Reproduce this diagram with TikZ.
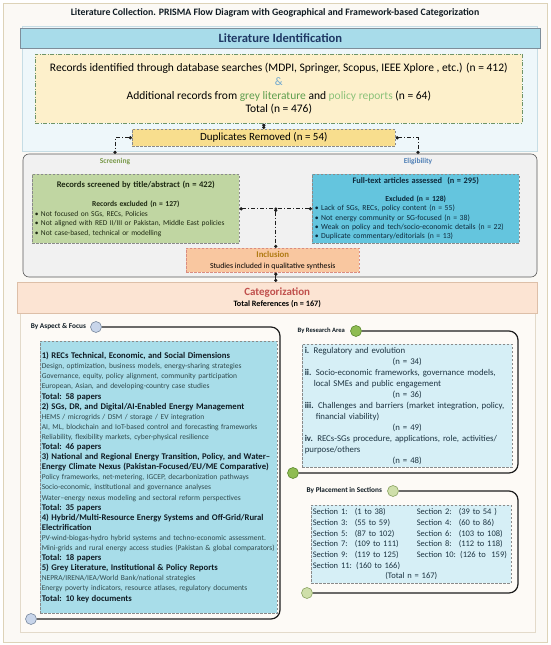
\documentclass[tikz,border=0pt]{standalone}
\usepackage{fontspec}
\setmainfont{Carlito}
\usetikzlibrary{arrows.meta,calc,positioning}

\definecolor{pagebg}{HTML}{FBF9F5}
\definecolor{framtan}{HTML}{DDD3B8}
\definecolor{idblue}{HTML}{EEF7FA}
\definecolor{idedge}{HTML}{C6DDE5}
\definecolor{hdrblue}{HTML}{A8DCEA}
\definecolor{hdredge}{HTML}{7E8E9A}
\definecolor{idnavy}{HTML}{1F3864}
\definecolor{recyellow}{HTML}{FDF0CB}
\definecolor{recedge}{HTML}{6E9468}
\definecolor{ampblue}{HTML}{6FA8D0}
\definecolor{greylit}{HTML}{5E9E4E}
\definecolor{polrep}{HTML}{8CC27A}
\definecolor{dupyellow}{HTML}{F8DE8E}
\definecolor{boxgray}{HTML}{8A8A8A}
\definecolor{linkdark}{HTML}{1E1E1E}
\definecolor{scrgray}{HTML}{F1F1F1}
\definecolor{scredge}{HTML}{5A5A5A}
\definecolor{scrlabel}{HTML}{7B9A4C}
\definecolor{elilabel}{HTML}{4F7FB5}
\definecolor{scrgreen}{HTML}{C0D6A2}
\definecolor{scrtext}{HTML}{1F2A14}
\definecolor{eliblue}{HTML}{64C5DE}
\definecolor{elitext}{HTML}{0E2A3C}
\definecolor{inclorange}{HTML}{F9C7A0}
\definecolor{incledge}{HTML}{D98C80}
\definecolor{incltext}{HTML}{B07A12}
\definecolor{lowbg}{HTML}{FDFAF6}
\definecolor{lowedge}{HTML}{E3DACA}
\definecolor{catpeach}{HTML}{FCE4D3}
\definecolor{catedge}{HTML}{DDBFA8}
\definecolor{catred}{HTML}{C0504D}
\definecolor{aspblue}{HTML}{A8DDE9}
\definecolor{aspbody}{HTML}{30494C}
\definecolor{headdark}{HTML}{101C24}
\definecolor{resblue}{HTML}{D6EFF6}
\definecolor{restext}{HTML}{1D3442}
\definecolor{aspknob}{HTML}{C8D5EA}
\definecolor{aspknobedge}{HTML}{7A899F}
\definecolor{resknob}{HTML}{8FBC52}
\definecolor{resknobedge}{HTML}{5E8A30}
\definecolor{plcknob}{HTML}{CFDFAA}
\definecolor{plcknobedge}{HTML}{8BA363}

\newcommand{\asphead}[1]{{\fontsize{8.7}{10.1}\selectfont\bfseries\color{headdark}#1}}

\begin{document}
\begin{tikzpicture}[x=1pt,y=-1pt,>=Latex,
    box/.style={draw=boxgray,dash pattern=on 2.5pt off 1.5pt,line width=0.6pt,inner sep=2.5pt,anchor=north west},
    link/.style={draw=linkdark,line width=0.8pt,dash pattern=on 4pt off 2pt on 1pt off 2pt,{Circle[length=3.2pt]}-{Circle[length=3.2pt]}},
    dotlink/.style={draw=linkdark,line width=0.9pt,{Circle[length=3.2pt]}-{Circle[length=3.2pt]}},
    bracket/.style={draw=linkdark,line width=1.2pt,rounded corners=9pt},
    knob/.style={circle,draw,line width=0.6pt,minimum size=11pt,inner sep=0pt},
    grouplabel/.style={font=\fontsize{7.3}{8}\selectfont\bfseries,text=headdark,inner sep=0pt},
    phase/.style={font=\fontsize{7.5}{8}\selectfont\bfseries,inner sep=0pt}]
  \useasboundingbox (0,0) rectangle (550,645);
  \draw[framtan,fill=pagebg,line width=0.8pt] (3,3) rectangle (547,642);
  \node[font=\fontsize{9.8}{11}\selectfont\bfseries,text=headdark] (title) at (275,13)
    {Literature Collection. PRISMA Flow Diagram with Geographical and Framework-based Categorization};

  % identification
  \draw[idedge,fill=idblue] (22,26) rectangle (537,151);
  \node[draw=hdredge,fill=hdrblue,line width=0.8pt,minimum width=520pt,minimum height=20pt,anchor=north west,
    font=\fontsize{12.6}{13}\selectfont\bfseries,text=idnavy] (ident) at (20,28) {Literature Identification};
  \node[box,draw=recedge,dash pattern=on 4pt off 1.5pt on 1pt off 1.5pt,fill=recyellow,minimum width=487pt,
    minimum height=69pt,align=center,font=\fontsize{11.5}{13.7}\selectfont] (rec) at (35,54)
    {Records identified through database searches (MDPI, Springer, Scopus, IEEE Xplore , etc.) (n = 412)\\
     {\color{ampblue}\&}\\
     Additional records from {\color{greylit}grey literature} and {\color{polrep}policy reports} (n = 64)\\
     Total (n = 476)};
  \node[box,fill=dupyellow,minimum width=263pt,minimum height=17pt,font=\fontsize{11}{12}\selectfont] (dup) at (132,129)
    {Duplicates Removed (n = 54)};
  \draw[dotlink] (dup.north |- rec.south) -- (dup.north);

  % screening and eligibility
  \draw[scredge,fill=scrgray,line width=0.6pt,rounded corners=6pt] (23,154) rectangle (537,277);
  \coordinate (scrTop) at (115,154);
  \coordinate (eliTop) at (418,154);
  \draw[link] (dup.west) -| (scrTop);
  \draw[link] (dup.east) -| (eliTop);
  \node[phase,text=scrlabel] (scrlbl) at (115,162) {Screening};
  \node[phase,text=elilabel] (elilbl) at (418,162) {Eligibility};
  \node[box,fill=scrgreen,minimum width=207pt,minimum height=69pt,text width=202pt,align=left,
    font=\fontsize{7.45}{9.5}\selectfont,text=scrtext] (scr) at (32,174)
    {\makebox[\linewidth]{\fontsize{8.6}{9.5}\selectfont\bfseries Records screened by title/abstract (n = 422)}\\[9.5pt]
     \makebox[\linewidth]{\fontsize{7.6}{9.5}\selectfont\bfseries Records excluded (n = 127)}\\
     \textbullet\ Not focused on SGs, RECs, Policies\\
     \textbullet\ Not aligned with RED II/III or Pakistan, Middle East policies\\
     \textbullet\ Not case-based, technical or modelling};
  \node[box,fill=eliblue,minimum width=207pt,minimum height=69pt,text width=202pt,align=left,
    font=\fontsize{7.7}{9.3}\selectfont,text=elitext] (eli) at (312,174)
    {\makebox[\linewidth]{\fontsize{8.4}{9.3}\selectfont\bfseries Full-text articles assessed\ \ (n = 295)}\\[8.7pt]
     \makebox[\linewidth]{\bfseries Excluded (n = 128)}\\
     \textbullet\ Lack of SGs, RECs, policy content (n = 55)\\
     \textbullet\ Not energy community or SG-focused (n = 38)\\
     \textbullet\ Weak on policy and tech/socio-economic details (n = 22)\\
     \textbullet\ Duplicate commentary/editorials (n = 13)};
  \node[box,draw=incledge,fill=inclorange,minimum width=173pt,minimum height=24pt,align=center,
    font=\fontsize{7.8}{11}\selectfont] (incl) at (186,248)
    {{\fontsize{8.8}{11}\selectfont\bfseries\color{incltext}Inclusion}\\ Studies included in qualitative synthesis};
  \draw[link] (scr.east) -- coordinate (mid) (eli.west);
  \fill[linkdark] (mid) circle (1.6pt);
  \draw[link] (mid) -- (mid |- incl.north);

  % categorization
  \draw[lowedge,fill=lowbg] (20,313) rectangle (535,632);
  \node[draw=catedge,fill=catpeach,minimum width=520pt,minimum height=31pt,anchor=north west,align=center,
    font=\fontsize{8.2}{11}\selectfont] (cat) at (17,282)
    {{\fontsize{11}{11}\selectfont\bfseries\color{catred}Categorization}\\ \textbf{Total References (n = 167)}};
  \draw[dotlink] (mid |- incl.south) -- (mid |- cat.north);

  % by aspect & focus
  \node[knob,fill=aspknob,draw=aspknobedge] (aspTop) at (96,327) {};
  \node[knob,fill=aspknob,draw=aspknobedge] (aspBot) at (31,619) {};
  \coordinate (aspRight) at (280,0);
  \draw[bracket] (aspTop.east) -- (aspTop.east -| aspRight) -- (aspBot.east -| aspRight) -- (aspBot.east);
  \node[grouplabel,left=4pt of aspTop] (asplbl) {By Aspect \& Focus};
  \node[box,inner sep=1.5pt,fill=aspblue,minimum width=237pt,minimum height=272pt,text width=234pt,align=left,
    font=\fontsize{7.5}{10.1}\selectfont,text=aspbody] (asp) at (40,341)
    {\asphead{1) RECs Technical, Economic, and Social Dimensions}\\
     Design, optimization, business models, energy-sharing strategies\\
     Governance, equity, policy alignment, community participation\\
     European, Asian, and developing-country case studies\\
     \asphead{Total: 58 papers}\\
     \asphead{2) SGs, DR, and Digital/AI-Enabled Energy Management}\\
     HEMS / microgrids / DSM / storage / EV integration\\
     AI, ML, blockchain and IoT-based control and forecasting frameworks\\
     Reliability, flexibility markets, cyber-physical resilience\\
     \asphead{Total: 46 papers}\\
     \asphead{3) National and Regional Energy Transition, Policy, and Water–}\\
     \asphead{Energy Climate Nexus (Pakistan-Focused/EU/ME Comparative)}\\
     Policy frameworks, net-metering, IGCEP, decarbonization pathways\\
     Socio-economic, institutional and governance analyses\\
     Water–energy nexus modeling and sectoral reform perspectives\\
     \asphead{Total: 35 papers}\\
     \asphead{4) Hybrid/Multi-Resource Energy Systems and Off-Grid/Rural}\\
     \asphead{Electrification}\\
     PV-wind-biogas-hydro hybrid systems and techno-economic assessment.\\
     Mini-grids and rural energy access studies (Pakistan \& global comparators)\\
     \asphead{Total: 18 papers}\\
     \asphead{5) Grey Literature, Institutional \& Policy Reports}\\
     NEPRA/IRENA/IEA/World Bank/national strategies\\
     Energy poverty indicators, resource atlases, regulatory documents\\
     \asphead{Total: 10 key documents}};

  % by research area
  \node[knob,fill=resknob,draw=resknobedge] (resTop) at (356,331) {};
  \node[knob,fill=resknob,draw=resknobedge] (resBot) at (293,473) {};
  \coordinate (secRight) at (518,0);
  \draw[bracket] (resTop.east) -- (resTop.east -| secRight) -- (resBot.east -| secRight) -- (resBot.east);
  \node[grouplabel,font=\fontsize{6.6}{8}\selectfont\bfseries,left=5pt of resTop] (reslbl) {By Research Area};
  \node[box,fill=resblue,minimum width=210pt,minimum height=123pt,text width=205pt,align=left,
    font=\fontsize{8.8}{11}\selectfont,text=restext] (res) at (302,344)
    {\textbf{i.} Regulatory and evolution\\
     \makebox[\linewidth]{(n = 34)}\\
     \textbf{ii.} Socio-economic frameworks, governance models,\\
     \hspace*{9pt}local SMEs and public engagement\\
     \makebox[\linewidth]{(n = 36)}\\
     \textbf{iii.} Challenges and barriers (market integration, policy,\\
     \hspace*{11pt}financial viability)\\
     \makebox[\linewidth]{(n = 49)}\\
     \textbf{iv.} RECs-SGs procedure, applications, role, activities/\\
     purpose/others\\
     \makebox[\linewidth]{(n = 48)}};

  % by placement in sections
  \node[knob,fill=plcknob,draw=plcknobedge] (plcTop) at (393,491) {};
  \node[knob,fill=plcknob,draw=plcknobedge] (plcBot) at (307,593) {};
  \draw[bracket] (plcTop.east) -- (plcTop.east -| secRight) -- (plcBot.east -| secRight) -- (plcBot.east);
  \node[grouplabel,left=5pt of plcTop] (plclbl) {By Placement in Sections};
  \node[box,inner sep=1.5pt,fill=resblue,minimum width=200pt,minimum height=78pt,text width=197pt,align=left,
    font=\fontsize{8.5}{10.7}\selectfont,text=restext] (plc) at (311,505)
    {\mbox{\makebox[42pt][l]{Section 1:}\makebox[62pt][l]{(1 to 38)}\makebox[42pt][l]{Section 2:}(39 to 54 )}\\
     \mbox{\makebox[42pt][l]{Section 3:}\makebox[62pt][l]{(55 to 59)}\makebox[42pt][l]{Section 4:}(60 to 86)}\\
     \mbox{\makebox[42pt][l]{Section 5:}\makebox[62pt][l]{(87 to 102)}\makebox[42pt][l]{Section 6:}(103 to 108)}\\
     \mbox{\makebox[42pt][l]{Section 7:}\makebox[62pt][l]{(109 to 111)}\makebox[42pt][l]{Section 8:}(112 to 118)}\\
     \mbox{\makebox[42pt][l]{Section 9:}\makebox[62pt][l]{(119 to 125)}Section 10: (126 to\ \ 159)}\\
     Section 11: (160 to 166)\\
     \makebox[\linewidth]{(Total n = 167)}};
\end{tikzpicture}
\end{document}
